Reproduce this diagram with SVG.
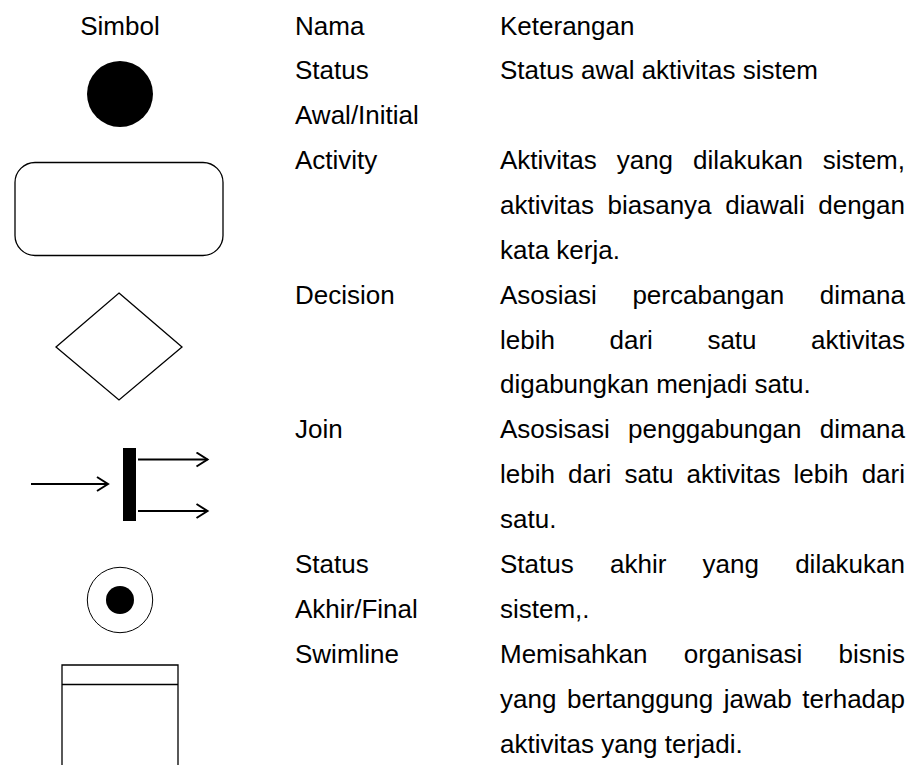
<svg xmlns="http://www.w3.org/2000/svg" width="915" height="776" viewBox="0 0 915 776">
<defs>
<style>
text{font-family:"Liberation Sans",Arial,sans-serif;font-size:26px;fill:#000}
.e{text-anchor:end}
.m{text-anchor:middle}
.sh{fill:none;stroke:#000;stroke-width:1.3}
.ar{fill:none;stroke:#000;stroke-width:2}
</style>
<marker id="open" markerUnits="userSpaceOnUse" markerWidth="16" markerHeight="18" refX="13" refY="8" orient="auto">
<path d="M2,1 L13,8 L2,15" fill="none" stroke="#000" stroke-width="2"/>
</marker>
</defs>
<rect width="915" height="776" fill="#fff"/>

<g id="header">
<text class="m" x="120" y="35">Simbol</text>
<text x="295" y="35">Nama</text>
<text x="500" y="35">Keterangan</text>
</g>

<g id="initial">
<circle cx="120" cy="94" r="33" fill="#000"/>
<text x="295" y="79">Status</text>
<text x="295" y="124">Awal/Initial</text>
<text x="500" y="79">Status awal aktivitas sistem</text>
</g>

<g id="activity">
<rect class="sh" x="15" y="162.5" width="208" height="93" rx="20" ry="20"/>
<text x="295" y="169">Activity</text>
<text x="500" y="169">Aktivitas</text><text x="616.7" y="169">yang</text><text x="693" y="169">dilakukan</text><text class="e" x="905" y="169">sistem,</text>
<text x="500" y="214">aktivitas</text><text x="607.5" y="214">biasanya</text><text x="725.2" y="214">diawali</text><text class="e" x="905" y="214">dengan</text>
<text x="500" y="258.5">kata kerja.</text>
</g>

<g id="decision">
<polygon class="sh" points="119,293 182,347 119,400 56,347"/>
<text x="295" y="303.5">Decision</text>
<text x="500" y="303.5">Asosiasi</text><text x="632.4" y="303.5">percabangan</text><text class="e" x="905" y="303.5">dimana</text>
<text x="500" y="348.5">lebih</text><text x="609.5" y="348.5">dari</text><text x="707.4" y="348.5">satu</text><text class="e" x="905" y="348.5">aktivitas</text>
<text x="500" y="393">digabungkan menjadi satu.</text>
</g>

<g id="join">
<rect x="123" y="448" width="13" height="73" fill="#000"/>
<text x="295" y="438">Join</text>
<text x="500" y="438">Asosisasi</text><text x="628" y="438">penggabungan</text><text class="e" x="905" y="438">dimana</text>
<text x="500" y="483">lebih</text><text x="568" y="483">dari</text><text x="624.4" y="483">satu</text><text x="686.6" y="483">aktivitas</text><text x="793.6" y="483">lebih</text><text class="e" x="905" y="483">dari</text>
<text x="500" y="528">satu.</text>
</g>

<g id="connectors">
<line class="ar" x1="31" y1="484" x2="108" y2="484" marker-end="url(#open)"/>
<line class="ar" x1="138" y1="459.5" x2="207.5" y2="459.5" marker-end="url(#open)"/>
<line class="ar" x1="138" y1="511" x2="207.5" y2="511" marker-end="url(#open)"/>
</g>

<g id="final">
<circle cx="120" cy="600" r="32.7" fill="none" stroke="#000" stroke-width="1"/>
<circle cx="120" cy="600" r="14" fill="#000"/>
<text x="295" y="573">Status</text>
<text x="295" y="618">Akhir/Final</text>
<text x="500" y="573">Status</text><text x="610" y="573">akhir</text><text x="702.6" y="573">yang</text><text class="e" x="905" y="573">dilakukan</text>
<text x="500" y="618">sistem,.</text>
</g>

<g id="swimlane">
<path class="sh" stroke-width="1.5" d="M62,765 V665 H178 V765 M62,684.5 H178"/>
<text x="295" y="663">Swimline</text>
<text x="500" y="663">Memisahkan</text><text x="683.7" y="663">organisasi</text><text class="e" x="905" y="663">bisnis</text>
<text x="500" y="707.5">yang</text><text x="567.1" y="707.5">bertanggung</text><text x="723.8" y="707.5">jawab</text><text class="e" x="905" y="707.5">terhadap</text>
<text x="500" y="752.5">aktivitas yang terjadi.</text>
</g>
</svg>
